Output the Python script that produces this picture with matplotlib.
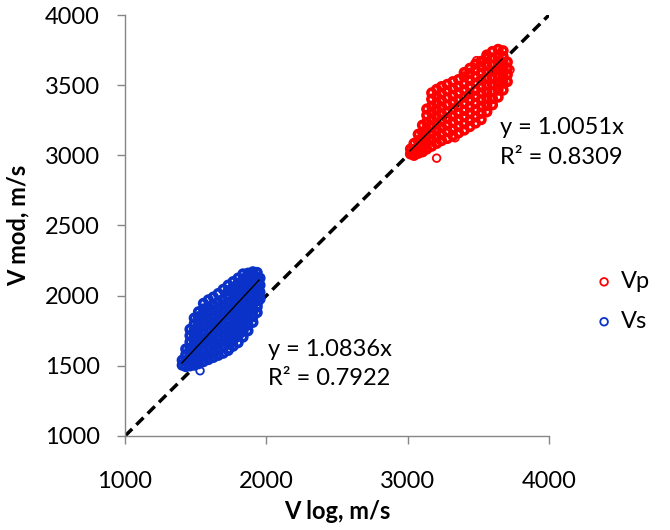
import numpy as np
import matplotlib
matplotlib.use("Agg")
from matplotlib import pyplot as plt

# Vp cloud (x = V log, y = V mod)
vp_log_cols = [3020, 3045, 3075, 3105, 3135, 3170, 3205, 3240, 3280, 3320,
               3360, 3400, 3440, 3480, 3520, 3560, 3600, 3640, 3675, 3705]
vp_mod_cols = [
    [3010, 3045],
    [3000, 3040, 3085],
    [3015, 3060, 3105, 3150],
    [3025, 3070, 3115, 3165, 3215],
    [3045, 3090, 3135, 3185, 3235, 3285, 3330],
    [3065, 3110, 3160, 3205, 3255, 3305, 3350, 3400, 3445],
    [3085, 3130, 3180, 3225, 3275, 3325, 3370, 3420, 3470],
    [3105, 3150, 3200, 3245, 3295, 3345, 3390, 3440, 3490],
    [3120, 3170, 3215, 3265, 3310, 3360, 3410, 3460, 3505],
    [3140, 3185, 3235, 3280, 3330, 3380, 3425, 3475, 3525],
    [3160, 3205, 3255, 3300, 3350, 3395, 3445, 3490, 3540],
    [3180, 3225, 3275, 3320, 3370, 3415, 3465, 3510, 3560, 3590],
    [3205, 3250, 3300, 3345, 3395, 3440, 3490, 3535, 3585, 3620],
    [3230, 3275, 3325, 3370, 3420, 3465, 3515, 3560, 3610, 3650],
    [3255, 3300, 3350, 3395, 3445, 3490, 3540, 3585, 3635, 3670],
    [3310, 3355, 3405, 3450, 3500, 3545, 3595, 3640, 3690, 3715],
    [3360, 3405, 3455, 3505, 3550, 3600, 3645, 3695, 3740],
    [3415, 3465, 3510, 3560, 3610, 3655, 3705, 3755],
    [3465, 3515, 3565, 3615, 3660, 3705, 3745],
    [3525, 3575, 3620, 3665],
]
vp_out_log = [3205, 3335, 3488, 3724]
vp_out_mod = [2980, 3125, 3675, 3610]

# Vs cloud
vs_log_cols = [1405, 1430, 1460, 1490, 1520, 1555, 1590, 1625, 1660, 1695,
               1730, 1765, 1800, 1835, 1870, 1905, 1935, 1955]
vs_mod_cols = [
    [1505, 1540],
    [1495, 1535, 1580, 1620],
    [1500, 1540, 1585, 1625, 1670, 1715, 1760],
    [1505, 1545, 1590, 1630, 1670, 1715, 1755, 1800, 1840],
    [1515, 1555, 1595, 1640, 1680, 1720, 1765, 1805, 1850, 1885],
    [1530, 1570, 1610, 1655, 1695, 1735, 1780, 1820, 1865, 1905, 1945],
    [1545, 1585, 1630, 1670, 1710, 1755, 1795, 1835, 1880, 1920, 1970],
    [1560, 1600, 1645, 1685, 1725, 1770, 1810, 1850, 1895, 1935, 1990],
    [1575, 1615, 1660, 1700, 1745, 1785, 1825, 1870, 1910, 1955, 2015],
    [1590, 1635, 1675, 1720, 1760, 1800, 1845, 1885, 1930, 1970, 2045],
    [1610, 1655, 1695, 1735, 1780, 1820, 1865, 1905, 1945, 1990, 2035, 2075],
    [1640, 1680, 1725, 1765, 1805, 1850, 1890, 1930, 1975, 2015, 2060, 2100],
    [1665, 1710, 1750, 1790, 1835, 1875, 1915, 1960, 2000, 2045, 2085, 2125],
    [1705, 1745, 1785, 1830, 1870, 1910, 1955, 1995, 2035, 2080, 2120, 2155],
    [1750, 1790, 1830, 1875, 1915, 1955, 2000, 2040, 2085, 2125, 2160],
    [1810, 1850, 1890, 1935, 1975, 2015, 2060, 2100, 2140, 2170],
    [1880, 1920, 1965, 2005, 2045, 2090, 2130, 2165],
    [1975, 2025, 2075, 2125],
]
vs_out_log = [1531, 1743, 1941]
vs_out_mod = [1465, 1625, 1940]

# fitted trends (through origin) and their x ranges
vp_slope, vp_r2, vp_range = 1.0051, 0.8309, [3015, 3668]
vs_slope, vs_r2, vs_range = 1.0836, 0.7922, [1403, 1948]

ticks = [1000, 2000, 3000, 4000]
yticks = [1000, 1500, 2000, 2500, 3000, 3500, 4000]


def flatten(cols, rows):
    xs, ys = [], []
    for x, col in zip(cols, rows):
        xs += [x] * len(col)
        ys += col
    return np.array(xs), np.array(ys)


plt.rcParams['font.family'] = ['Lato', 'DejaVu Sans']

red = '#ff0000'
blue = '#0a32c8'
grey = '#868686'

fig = plt.figure(figsize=(6.7, 5.3), dpi=100)
ax = fig.add_axes([125/670, 94/530, 424/670, 421/530])

# 1:1 line
ax.plot([1000, 4000], [1000, 4000], color='black', lw=2.5,
        linestyle=(0, (2.9, 1.7)), zorder=1)

vpx, vpy = flatten(vp_log_cols, vp_mod_cols)
vsx, vsy = flatten(vs_log_cols, vs_mod_cols)
# dense core drawn with heavy rings, stray points with thin ones
ax.scatter(vpx, vpy, s=30, facecolors='none', edgecolors=red,
           linewidths=2.6, zorder=2)
ax.scatter(vsx, vsy, s=30, facecolors='none', edgecolors=blue,
           linewidths=2.6, zorder=2)
ax.scatter(vp_out_log, vp_out_mod, s=30, facecolors='none', edgecolors=red,
           linewidths=1.3, zorder=2, label='Vp')
ax.scatter(vs_out_log, vs_out_mod, s=30, facecolors='none', edgecolors=blue,
           linewidths=1.3, zorder=2, label='Vs')

# trend lines
for rng, k in [(vp_range, vp_slope), (vs_range, vs_slope)]:
    xr = np.array(rng)
    ax.plot(xr, k * xr, color='black', lw=1, zorder=3)

fs = 17
ax.text(3653, 3195, 'y = %.4fx' % vp_slope, fontsize=fs, va='center')
ax.text(3653, 2988, 'R² = %.4f' % vp_r2, fontsize=fs, va='center')
ax.text(2012, 1613, 'y = %.4fx' % vs_slope, fontsize=fs, va='center')
ax.text(2012, 1413, 'R² = %.4f' % vs_r2, fontsize=fs, va='center')

ax.set_xlim(1000, 4000)
ax.set_ylim(1000, 4000)
ax.set_xticks(ticks)
ax.set_yticks(yticks)
ax.tick_params(direction='out', length=6, width=1, color=grey,
               labelsize=fs, labelcolor='black')
ax.tick_params(axis='y', pad=12)
ax.tick_params(axis='x', pad=19)
for side in ['top', 'right']:
    ax.spines[side].set_visible(False)
for side in ['left', 'bottom']:
    ax.spines[side].set_color(grey)
    ax.spines[side].set_linewidth(1)

ax.set_xlabel('V log, m/s', fontsize=fs, fontweight='bold')
ax.set_ylabel('V mod, m/s', fontsize=fs, fontweight='bold')
ax.xaxis.set_label_coords(0.5, -0.152)
ax.yaxis.set_label_coords(-0.224, 0.5)

fig.legend(loc='center left', bbox_to_anchor=(597/670, 1 - 301.5/530),
           frameon=False, fontsize=fs, scatterpoints=1, borderpad=0,
           handlelength=0.6, handletextpad=0.4, labelspacing=0.8,
           borderaxespad=0)

fig.savefig('out.png', dpi=100)
